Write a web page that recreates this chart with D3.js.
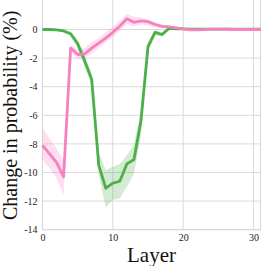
<!DOCTYPE html>
<html>
<head>
<meta charset="utf-8">
<script src="https://cdn.jsdelivr.net/npm/d3@7"></script>
<style>
  body { margin: 0; background: #fff; }
  svg text { font-family: "Liberation Serif", "DejaVu Serif", serif; }
</style>
</head>
<body>
<svg id="chart" width="266" height="266"></svg>
<script>
const layers = d3.range(0, 32);

// pink series (mean, lower, upper)
const pinkMean = [-8.1, -8.7, -9.3, -10.3, -1.3, -1.75, -1.7, -1.3, -0.95, -0.6, -0.2, 0.25, 0.75, 0.5, 0.6, 0.55, 0.35, 0.22, 0.18, 0.12, 0.05, -0.02, -0.02, 0.0, 0.02, 0.02, 0.02, 0.0, 0.0, 0.0, 0.0, 0.0];
const pinkLow  = [-9.1, -9.7, -10.4, -11.6, -1.5, -2.1, -2.0, -1.7, -1.3, -0.9, -0.5, -0.1, 0.4, 0.2, 0.35, 0.3, 0.15, 0.08, 0.08, 0.04, -0.02, -0.08, -0.07, -0.05, -0.03, -0.03, -0.03, -0.04, -0.04, -0.04, -0.04, -0.04];
const pinkHigh = [-6.9, -7.6, -8.3, -9.2, -1.1, -1.4, -1.3, -0.9, -0.6, -0.2, 0.2, 0.6, 1.1, 0.9, 0.85, 0.7, 0.5, 0.35, 0.28, 0.2, 0.12, 0.04, 0.03, 0.05, 0.07, 0.07, 0.07, 0.04, 0.04, 0.04, 0.04, 0.04];

// green series (mean, lower, upper)
const greenMean = [0.0, 0.0, -0.02, -0.1, -0.3, -1.0, -2.2, -3.5, -9.5, -11.1, -10.75, -10.6, -9.4, -9.1, -6.4, -1.2, -0.2, -0.35, 0.08, 0.05, 0.04, 0.02, 0.02, 0.02, 0.02, 0.02, 0.02, 0.02, 0.02, 0.02, 0.02, 0.02];
const greenLow  = [-0.05, -0.05, -0.08, -0.2, -0.45, -1.3, -2.6, -3.9, -10.2, -12.45, -11.9, -11.8, -11.0, -10.1, -7.4, -1.6, -0.4, -0.5, 0.0, 0.0, 0.0, -0.02, -0.02, -0.02, -0.02, -0.02, -0.02, -0.02, -0.02, -0.02, -0.02, -0.02];
const greenHigh = [0.05, 0.05, 0.04, 0.0, -0.15, -0.7, -1.8, -3.1, -8.6, -9.8, -9.6, -9.4, -8.8, -8.1, -5.6, -0.9, 0.0, -0.2, 0.15, 0.1, 0.08, 0.06, 0.06, 0.06, 0.06, 0.06, 0.06, 0.06, 0.06, 0.06, 0.06, 0.06];

const xTicks = [0, 10, 20, 30];
const yTicks = [0, -2, -4, -6, -8, -10, -12, -14];

const series = [
  { color: '#4daf4a', mean: greenMean, low: greenLow, high: greenHigh },
  { color: '#f781bf', mean: pinkMean, low: pinkLow, high: pinkHigh }
];

const svg = d3.select('#chart');
const M = { LEFT: 42.5, RIGHT: 260.5, TOP: 0.9, BOTTOM: 229.7 };
const gridColor = '#dadada';
const SERIF = '"Liberation Serif", "DejaVu Serif", serif';

const xScale = d3.scaleLinear().domain([0, 31]).range([M.LEFT, M.RIGHT]);
const yScale = d3.scaleLinear().domain([-14, 2]).range([M.BOTTOM, M.TOP]);

// grid
svg.append('g').selectAll('line')
  .data(xTicks)
  .enter()
  .append('line')
  .attr('x1', d => xScale(d)).attr('x2', d => xScale(d))
  .attr('y1', M.TOP - 1).attr('y2', M.BOTTOM)
  .attr('stroke', gridColor).attr('stroke-width', 1);

svg.append('g').selectAll('line')
  .data(yTicks)
  .enter()
  .append('line')
  .attr('x1', M.LEFT).attr('x2', M.RIGHT)
  .attr('y1', d => yScale(d)).attr('y2', d => yScale(d))
  .attr('stroke', gridColor).attr('stroke-width', 1);

// spines (left, right, bottom)
svg.append('path')
  .attr('d', `M${M.LEFT},${M.TOP - 1}V${M.BOTTOM}H${M.RIGHT}V${M.TOP - 1}`)
  .attr('fill', 'none')
  .attr('stroke', gridColor)
  .attr('stroke-width', 1.2);

const area = (s) => d3.area()
  .x((d, i) => xScale(layers[i]))
  .y0((d, i) => yScale(s.low[i]))
  .y1((d, i) => yScale(s.high[i]));

const line = (s) => d3.line()
  .x((d, i) => xScale(layers[i]))
  .y((d, i) => yScale(s.mean[i]));

series.forEach(s => {
  svg.append('path')
    .attr('d', area(s)(layers))
    .attr('fill', s.color)
    .attr('fill-opacity', 0.25);
});

series.forEach(s => {
  svg.append('path')
    .attr('d', line(s)(layers))
    .attr('fill', 'none')
    .attr('stroke', s.color)
    .attr('stroke-width', 2.8)
    .attr('stroke-linejoin', 'round');
});

// axes
const xAxis = d3.axisBottom(xScale).tickValues(xTicks).tickSize(0).tickPadding(4);
const yAxis = d3.axisLeft(yScale).tickValues(yTicks).tickSize(0).tickPadding(5);

const gx = svg.append('g')
  .attr('transform', `translate(0, ${M.BOTTOM})`)
  .call(xAxis);
const gy = svg.append('g')
  .attr('transform', `translate(${M.LEFT}, 0)`)
  .call(yAxis);

[gx, gy].forEach(g => {
  g.attr('font-family', null).attr('font-size', null);
  g.select('.domain').remove();
  g.selectAll('text')
    .style('font-family', SERIF)
    .style('font-size', '10px')
    .attr('fill', '#222');
});
gy.selectAll('text').text(d => d < 0 ? '-' + Math.abs(d) : d);

svg.append('text')
  .attr('x', (M.LEFT + M.RIGHT) / 2)
  .attr('y', 262)
  .attr('text-anchor', 'middle')
  .style('font-family', SERIF)
  .style('font-size', '21px')
  .attr('fill', '#111')
  .text('Layer');

svg.append('text')
  .attr('transform', `translate(17, ${(M.TOP + M.BOTTOM) / 2}) rotate(-90)`)
  .attr('text-anchor', 'middle')
  .style('font-family', SERIF)
  .style('font-size', '20px')
  .attr('fill', '#111')
  .text('Change in probability (%)');
</script>
</body>
</html>
